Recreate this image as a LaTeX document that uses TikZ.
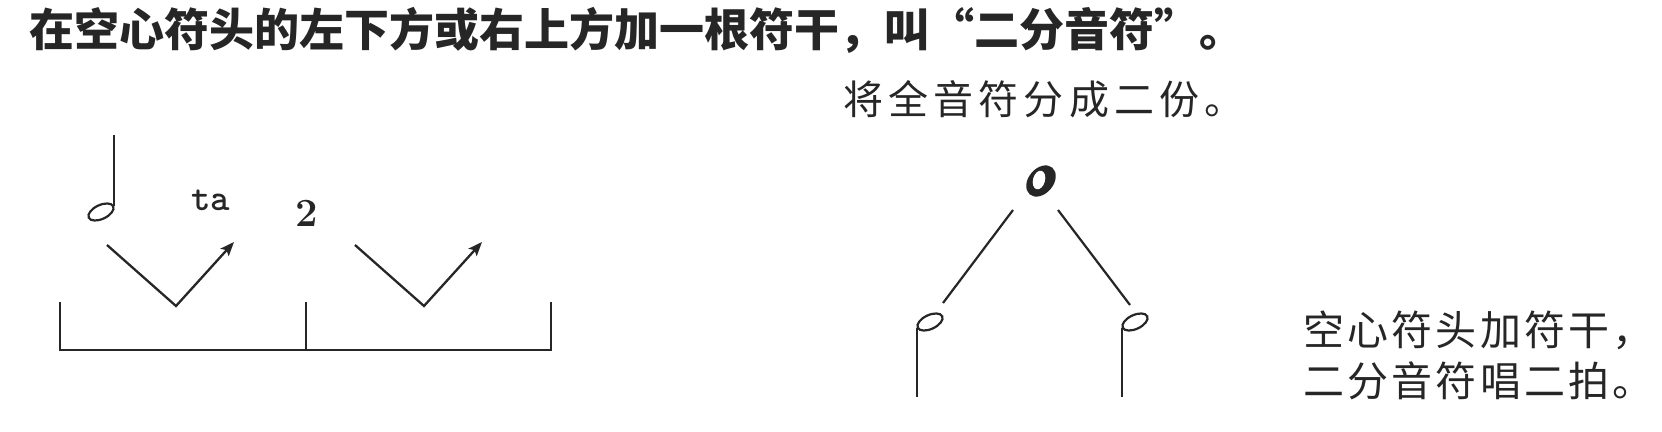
\documentclass[tikz,border=0pt]{standalone}
\usepackage{fontspec}
\newfontfamily\cjk{Noto Sans CJK SC}
\newfontfamily\cjksp[LetterSpace=13]{Noto Sans CJK SC}
\newfontfamily\cjkspr[LetterSpace=8]{Noto Sans CJK SC}
\usetikzlibrary{arrows.meta,shapes.geometric}
\definecolor{ink}{RGB}{38,38,38}
\begin{document}
\begin{tikzpicture}[x=1pt,y=-1pt,
  txt/.style={inner sep=0pt, outer sep=0pt, text=ink},
  stroke/.style={draw=ink, line width=2.3pt},
  vline/.style={stroke, -{Stealth[length=14pt,width=11pt,inset=3pt]}},
  head/.style={ellipse, draw=ink, line width=2.2pt, minimum width=27pt, minimum height=14pt, inner sep=0pt, rotate=25},
  whole/.style={ellipse, fill=ink, minimum width=35pt, minimum height=25pt, inner sep=0pt, rotate=50},
  hole/.style={ellipse, fill=white, minimum width=19pt, minimum height=12pt, inner sep=0pt, rotate=75}]
\useasboundingbox (0,0) rectangle (1662,431);
\fill[white] (0,0) rectangle (1662,431);

% texts
\node[txt, anchor=west, font=\cjk\bfseries\fontsize{45}{45}\selectfont] (title) at (29,30) {在空心符头的左下方或右上方加一根符干，叫“二分音符”。};
\node[txt, anchor=west, font=\cjksp\fontsize{40}{40}\selectfont] (split) at (843,99) {将全音符分成二份。};
\node[txt, anchor=west, font=\cjkspr\fontsize{41}{41}\selectfont] (r1) at (1303,330) {空心符头加符干，};
\node[txt, anchor=west, font=\cjkspr\fontsize{41}{41}\selectfont] (r2) at (1303,381) {二分音符唱二拍。};
\node[txt, anchor=base west, font=\ttfamily\bfseries\fontsize{37}{37}\selectfont] (ta) at (191,210) {ta};
\node[txt, anchor=base west, font=\bfseries\fontsize{40}{40}\selectfont] (two) at (295,226) {2};

% top-left half note (stem up)
\node[head] (h0) at (101,212) {};
\coordinate (s0) at (h0.east |- 0,135);
\draw[stroke, line width=2.2pt] (h0.east) -- (s0);

% beat arrows
\coordinate (v1a) at (107,245); \coordinate (v1b) at (176,306); \coordinate (v1c) at (234,242);
\coordinate (v2a) at (355,245); \coordinate (v2b) at (424,306); \coordinate (v2c) at (482,242);
\draw[vline] (v1a) -- (v1b) -- (v1c);
\draw[vline] (v2a) -- (v2b) -- (v2c);

% bracket
\coordinate (b1) at (60,302); \coordinate (b2) at (60,350);
\coordinate (b3) at (551,350); \coordinate (b4) at (551,302);
\coordinate (bm1) at (306,302); \coordinate (bm2) at (306,350);
\draw[stroke, line width=2.6pt] (b1) -- (b2) -- (b3) -- (b4);
\draw[stroke, line width=2.6pt] (bm1) -- (bm2);

% whole note and its split
\node[whole] (w) at (1041,181) {};
\node[hole] (wh) at (1039,180) {};
\coordinate (l1) at (1013,210); \coordinate (l2) at (943,303);
\coordinate (l3) at (1058,210); \coordinate (l4) at (1130,305);
\draw[stroke, line width=2.2pt] (l1) -- (l2);
\draw[stroke, line width=2.2pt] (l3) -- (l4);

% bottom half notes (stem down)
\node[head] (h1) at (930,322) {};
\node[head] (h2) at (1135,322) {};
\coordinate (s1) at (h1.west |- 0,397);
\coordinate (s2) at (h2.west |- 0,397);
\draw[stroke, line width=2.2pt] (h1.west) -- (s1);
\draw[stroke, line width=2.2pt] (h2.west) -- (s2);
\end{tikzpicture}
\end{document}
